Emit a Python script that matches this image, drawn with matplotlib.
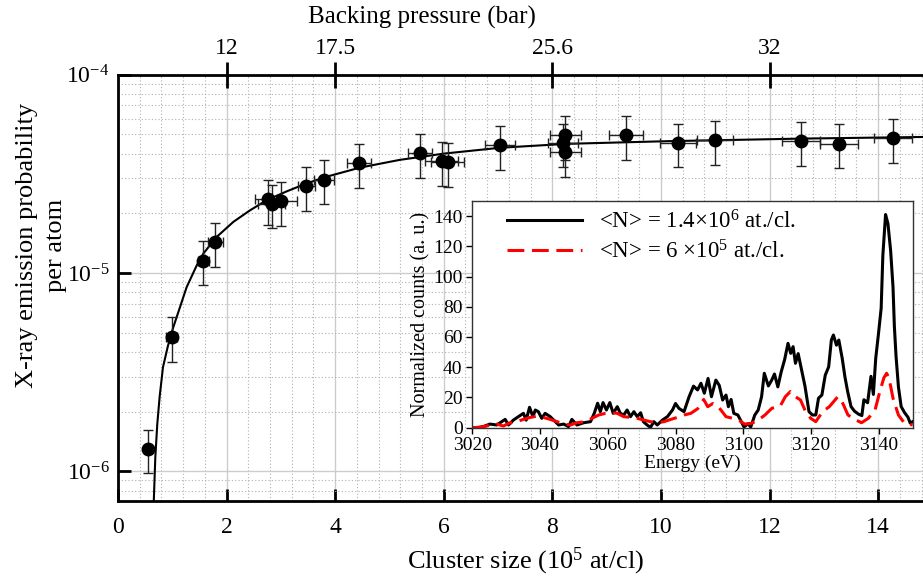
import matplotlib
matplotlib.use("Agg")
import matplotlib.pyplot as plt
from matplotlib.ticker import MultipleLocator, LogLocator, NullFormatter

plt.rcParams['font.family'] = ['Liberation Serif', 'DejaVu Serif']
plt.rcParams['mathtext.fontset'] = 'custom'
plt.rcParams['mathtext.rm'] = 'Liberation Serif'
plt.rcParams['mathtext.it'] = 'Liberation Serif:italic'

# ---------------------------------------------------------------------------
# data: X-ray emission probability vs cluster size
# ---------------------------------------------------------------------------
size = [0.56, 0.99, 1.57, 1.79, 2.77, 2.83, 3.01, 3.47, 3.79, 4.44, 5.57, 5.96,
        6.07, 7.03, 8.20, 8.24, 8.24, 9.36, 10.31, 11.00, 12.57, 13.27, 14.27]
prob = [1.30e-6, 4.78e-6, 1.156e-5, 1.435e-5, 2.35e-5, 2.24e-5, 2.31e-5,
        2.75e-5, 2.96e-5, 3.57e-5, 4.01e-5, 3.68e-5, 3.64e-5, 4.42e-5,
        4.54e-5, 4.95e-5, 4.08e-5, 4.95e-5, 4.54e-5, 4.68e-5, 4.63e-5,
        4.49e-5, 4.78e-5]
prob_err = [0.32e-6, 1.2e-6, 0.29e-5, 0.36e-5, 0.6e-5, 0.55e-5, 0.58e-5,
            0.69e-5, 0.74e-5, 0.9e-5, 1.0e-5, 0.92e-5, 0.91e-5, 1.1e-5,
            1.13e-5, 1.24e-5, 1.02e-5, 1.24e-5, 1.13e-5, 1.17e-5, 1.16e-5,
            1.12e-5, 1.2e-5]
size_err = [0.03, 0.1, 0.1, 0.14, 0.25, 0.25, 0.28, 0.15, 0.18, 0.22, 0.22,
            0.3, 0.3, 0.28, 0.28, 0.28, 0.28, 0.31, 0.33, 0.33, 0.35, 0.35,
            0.35]

# fit curve
fit_x = [0.655, 0.688, 0.724, 0.767, 0.829, 0.921, 1.019, 1.265, 1.449, 1.572,
         1.817, 2.124, 2.431, 2.738, 3.106, 3.474, 3.843, 4.457, 5.19, 6.0,
         7.03, 8.26, 10.1, 12.56, 15.0]
fit_y = [6.5e-7, 1.18e-6, 1.73e-6, 2.37e-6, 3.35e-6, 4.3e-6, 5.33e-6, 8.49e-6,
         1.09e-5, 1.253e-5, 1.52e-5, 1.81e-5, 2.07e-5, 2.33e-5, 2.58e-5,
         2.83e-5, 3.06e-5, 3.40e-5, 3.72e-5, 4.0e-5, 4.28e-5, 4.48e-5,
         4.62e-5, 4.76e-5, 4.86e-5]

# top axis: backing pressure at given cluster sizes
press_pos = [2, 4, 8, 12]
press_lbl = ['12', '17.5', '25.6', '32']

# ---------------------------------------------------------------------------
# inset spectra
# ---------------------------------------------------------------------------
e_big = [3020.0, 3021.5, 3023.2, 3025.2, 3027.2, 3028.7, 3029.7, 3030.7, 3032.1,
         3033.6, 3035.1, 3035.9, 3036.9, 3037.9, 3038.6, 3039.5, 3040.5, 3041.5,
         3043.0, 3044.5, 3045.5, 3047.0, 3048.4, 3049.4, 3050.9, 3052.9, 3054.9,
         3056.0, 3057.0, 3057.8, 3058.6, 3059.6, 3060.6, 3061.6, 3062.8, 3063.7,
         3064.7, 3065.7, 3066.7, 3067.7, 3068.7, 3069.7, 3070.5, 3071.6, 3072.6,
         3073.6, 3074.6, 3076.1, 3077.6, 3079.1, 3080.0, 3081.0, 3082.5, 3084.0,
         3085.3, 3086.5, 3087.5, 3088.5, 3089.6, 3090.6, 3091.9, 3092.9, 3093.9,
         3094.9, 3095.6, 3096.4, 3097.2, 3098.4, 3099.4, 3100.2, 3101.4, 3102.2,
         3103.4, 3104.4, 3105.4, 3106.2, 3107.4, 3108.4, 3109.2, 3110.2, 3111.2,
         3112.2, 3113.2, 3114.0, 3114.7, 3115.4, 3116.2, 3117.0, 3118.2, 3118.7,
         3119.4, 3120.4, 3121.4, 3122.2, 3123.2, 3124.2, 3125.2, 3126.0, 3126.6,
         3127.5, 3128.2, 3129.2, 3130.0, 3130.8, 3131.8, 3132.8, 3134.0, 3135.0,
         3135.6, 3136.7, 3137.7, 3138.4, 3139.1, 3139.9, 3140.7, 3141.2, 3142.0,
         3142.7, 3143.5, 3144.2, 3144.6, 3145.1, 3145.8, 3146.6, 3147.6, 3148.6,
         3149.3, 3150.0]
c_big = [0, 0, 0.7, 2.4, 1.8, 4, 5.5, 1.8, 5, 7.3, 9.5, 5, 13.5, 7.3, 11.7,
         10.6, 6.2, 9.5, 7.3, 4, 1.8, 2.4, 0.7, 5.5, 1.8, 3.3, 4, 9.5, 16.2,
         10.6, 16.6, 11.7, 16.6, 9.5, 13.9, 9.5, 8.4, 11.7, 7.3, 10.6, 7.3, 9.9,
         4, 1.8, 0.2, 4, 1.8, 5, 7.3, 11.7, 16, 12.8, 10.6, 20.5, 27.5, 25, 29.4,
         22.8, 32.6, 20.5, 31.5, 28, 18.3, 21.6, 13.9, 18.7, 9.5, 8.4, 4, 0.5,
         2.6, 0.5, 8.4, 11.7, 20.5, 36, 27.6, 31.5, 35.5, 27, 37, 45, 55.8, 49.2,
         53.6, 42.6, 49, 40.5, 27.6, 20.5, 10.6, 8.4, 8.4, 19.5, 21.6, 34.8,
         40.2, 58, 61.3, 54.6, 58, 45.9, 33.7, 24, 14, 11, 9, 8, 18.5, 16.5, 34,
         22, 46, 62, 79, 114, 141, 135, 117, 93, 67, 47, 27, 14, 10, 7, 3, 4]

e_small = [3020.0, 3022.0, 3024.0, 3025.2, 3027.2, 3029.2, 3030.7, 3033.1,
           3035.1, 3037.1, 3039.1, 3041.0, 3043.0, 3045.0, 3047.0, 3049.0,
           3050.9, 3053.4, 3055.3, 3057.3, 3059.3, 3061.3, 3062.8, 3064.7,
           3066.7, 3068.7, 3070.7, 3072.6, 3074.6, 3076.6, 3078.6, 3080.5,
           3082.5, 3084.5, 3086.5, 3088.3, 3089.5, 3091.0, 3092.4, 3093.4,
           3094.9, 3096.9, 3098.9, 3100.4, 3102.4, 3104.4, 3106.4, 3108.4,
           3110.9, 3112.4, 3113.9, 3115.4, 3116.9, 3118.4, 3119.9, 3121.4,
           3123.4, 3125.4, 3127.9, 3129.4, 3130.9, 3132.9, 3134.9, 3136.9,
           3138.9, 3140.3, 3141.5, 3142.3, 3143.0, 3144.2, 3145.8, 3147.6,
           3150.0]
c_small = [0, 0.3, 1, 1.8, 2.4, 1.1, 2.9, 4, 5.5, 6.8, 7.7, 6.8, 5.5, 4, 2.4,
           1.8, 3.3, 4, 6.2, 8.4, 9.5, 9.9, 9.5, 7.3, 6.8, 6.2, 5, 4, 3.3, 4,
           5.5, 6.8, 8.4, 9.5, 12.5, 18.7, 13.9, 16, 14.3, 11.7, 7.3, 6.2, 4.6,
           2.4, 2.9, 5, 8.4, 12.8, 14.3, 20.5, 23.9, 20.5, 18.3, 10.6, 6.2, 4,
           10.6, 13.9, 20.5, 16, 8.4, 5.5, 3.3, 6.2, 11.7, 23.9, 33, 36, 33,
           19.5, 8.4, 2.9, 1.8]

# ---------------------------------------------------------------------------
# main axes
# ---------------------------------------------------------------------------
fig = plt.figure(figsize=(9.23, 5.79), dpi=100)
ax = fig.add_axes([0.1278, 0.1339, 0.8825, 0.7371])

ax.errorbar(size, prob, yerr=prob_err, xerr=size_err, fmt='o', color='black',
            ms=9, ecolor='#222222', elinewidth=1, capsize=3.5,
            capthick=1, zorder=3)
ax.plot(fit_x, fit_y, color='black', lw=1.5, zorder=2)

ax.set_yscale('log')
ax.set_xlim(0, 15)
ax.set_ylim(7.05e-7, 1e-4)
ax.xaxis.set_major_locator(MultipleLocator(2))
ax.xaxis.set_minor_locator(MultipleLocator(0.4))
ax.yaxis.set_major_locator(LogLocator(base=10, numticks=10))
ax.yaxis.set_minor_locator(LogLocator(base=10, subs=range(2, 10), numticks=20))
ax.yaxis.set_minor_formatter(NullFormatter())

ax.grid(which='major', color='#cccccc', lw=1.0, ls='-')
ax.grid(which='minor', color='#b0b0b0', lw=0.8, ls=(0, (1, 2)))
ax.set_axisbelow(True)

ax.tick_params(which='major', direction='in', length=9, width=2,
               labelsize=17, pad=11, top=False, right=False)
ax.tick_params(which='minor', length=0)
ax.tick_params(axis='y', pad=6)
for s in ('left', 'bottom', 'top'):
    ax.spines[s].set_linewidth(2)

ax.set_xlabel('Cluster size (10$^5$ at/cl)', fontsize=19, labelpad=6)
ax.set_ylabel('X-ray emission probability\nper atom', fontsize=19,
              linespacing=1.45)
ax.yaxis.set_label_coords(-0.062, 0.60)

# top axis with backing pressure
top = ax.twiny()
top.set_xlim(ax.get_xlim())
top.set_xticks(press_pos)
top.set_xticklabels(press_lbl)
top.tick_params(direction='inout', length=19, width=2, labelsize=17, pad=2)
top.set_xlabel('Backing pressure (bar)', fontsize=18)
top.xaxis.set_label_coords(0.373, 1.12)
for s in top.spines.values():
    s.set_visible(False)

# ---------------------------------------------------------------------------
# inset spectrum
# ---------------------------------------------------------------------------
ins = fig.add_axes([0.5117, 0.2613, 0.4771, 0.3917])
ins.set_zorder(5)
ins.plot(e_big, c_big, color='black', lw=2.2,
         label=r'<N> = 1.4$\times$10$^6$ at./cl.')
ins.plot(e_small, c_small, color='red', lw=2.2, ls=(0, (5.5, 2.5)),
         label=r'<N> = 6 $\times$10$^5$ at./cl.')
ins.set_xlim(3020, 3150)
ins.set_ylim(0, 150)
ins.set_xticks(range(3020, 3141, 20))
ins.set_yticks(range(0, 141, 20))
ins.tick_params(direction='out', length=4, width=1, labelsize=14, pad=3)
for s in ins.spines.values():
    s.set_linewidth(1)
    s.set_color('#333333')
ins.set_xlabel('Energy (eV)', fontsize=14, labelpad=0)
ins.set_ylabel('Normalized counts (a. u.)', fontsize=14.5, labelpad=2)
ins.legend(loc='upper left', frameon=False, fontsize=16.5, handlelength=3.3,
           handletextpad=0.75, borderaxespad=0, labelspacing=0.3,
           bbox_to_anchor=(0.057, 1.0))

fig.savefig('out.png', dpi=100)
